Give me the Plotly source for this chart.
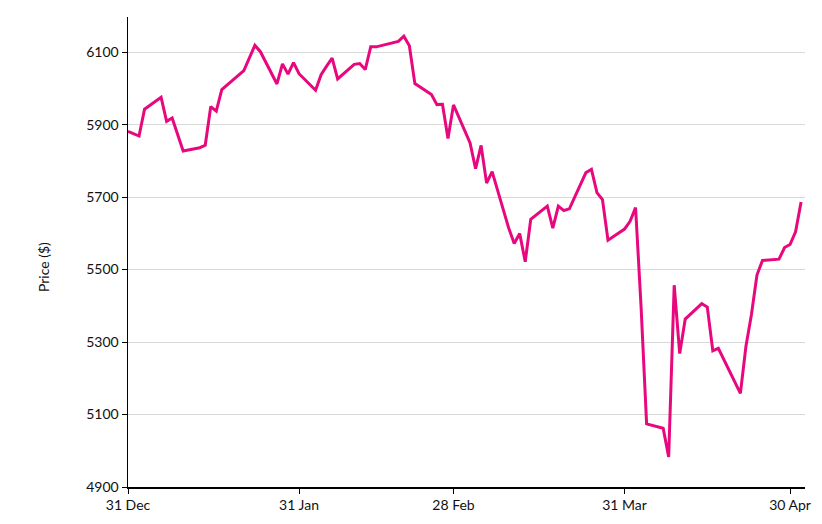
import plotly.graph_objects as go

dates = [
    "2024-12-31", "2025-01-02", "2025-01-03", "2025-01-06", "2025-01-07", "2025-01-08",
    "2025-01-10", "2025-01-13", "2025-01-14", "2025-01-15", "2025-01-16", "2025-01-17",
    "2025-01-21", "2025-01-22", "2025-01-23", "2025-01-24", "2025-01-27", "2025-01-28",
    "2025-01-29", "2025-01-30", "2025-01-31", "2025-02-03", "2025-02-04", "2025-02-05",
    "2025-02-06", "2025-02-07", "2025-02-10", "2025-02-11", "2025-02-12", "2025-02-13",
    "2025-02-14", "2025-02-18", "2025-02-19", "2025-02-20", "2025-02-21", "2025-02-24",
    "2025-02-25", "2025-02-26", "2025-02-27", "2025-02-28", "2025-03-03", "2025-03-04",
    "2025-03-05", "2025-03-06", "2025-03-07", "2025-03-10", "2025-03-11", "2025-03-12",
    "2025-03-13", "2025-03-14", "2025-03-17", "2025-03-18", "2025-03-19", "2025-03-20",
    "2025-03-21", "2025-03-24", "2025-03-25", "2025-03-26", "2025-03-27", "2025-03-28",
    "2025-03-31", "2025-04-01", "2025-04-02", "2025-04-03", "2025-04-04", "2025-04-07",
    "2025-04-08", "2025-04-09", "2025-04-10", "2025-04-11", "2025-04-14", "2025-04-15",
    "2025-04-16", "2025-04-17", "2025-04-21", "2025-04-22", "2025-04-23", "2025-04-24",
    "2025-04-25", "2025-04-28", "2025-04-29", "2025-04-30", "2025-05-01", "2025-05-02",
]

prices = [
    5881.63, 5868.55, 5942.47, 5975.38, 5909.03, 5918.25,
    5827.04, 5836.22, 5842.91, 5949.91, 5937.34, 5996.66,
    6049.24, 6086.37, 6118.71, 6101.24, 6012.28, 6067.70,
    6039.31, 6071.17, 6040.53, 5994.57, 6037.88, 6061.48,
    6083.57, 6025.99, 6066.44, 6068.50, 6051.97, 6115.07,
    6114.63, 6129.58, 6144.15, 6117.52, 6013.13, 5983.25,
    5955.25, 5956.06, 5861.57, 5954.50, 5849.72, 5778.15,
    5842.63, 5738.52, 5770.20, 5614.56, 5572.07, 5599.30,
    5521.52, 5638.94, 5675.12, 5614.66, 5675.29, 5662.89,
    5667.56, 5767.57, 5776.65, 5712.20, 5693.31, 5580.94,
    5611.85, 5633.07, 5670.97, 5396.52, 5074.08, 5062.25,
    4982.77, 5456.90, 5268.05, 5363.36, 5405.97, 5396.63,
    5275.70, 5282.70, 5158.20, 5287.76, 5375.86, 5484.77,
    5525.21, 5528.75, 5560.83, 5569.06, 5604.14, 5686.67,
]

x_tick_vals = ["2024-12-31", "2025-01-31", "2025-02-28", "2025-03-31", "2025-04-30"]
x_tick_text = ["31 Dec", "31 Jan", "28 Feb", "31 Mar", "30 Apr"]
y_tick_vals = [4900, 5100, 5300, 5500, 5700, 5900, 6100]
y_title = "Price ($)"

fig = go.Figure()
fig.add_trace(go.Scatter(
    x=dates, y=prices, mode="lines",
    line=dict(color="#e8087e", width=3),
    hoverinfo="skip",
))

font_family = "Lato, 'Open Sans', sans-serif"
fig.update_layout(
    width=822, height=524,
    margin=dict(l=128, r=17, t=17, b=37, autoexpand=False),
    paper_bgcolor="white", plot_bgcolor="white",
    showlegend=False,
    font=dict(family=font_family, size=14, color="#111"),
    xaxis=dict(
        type="date",
        range=["2024-12-31", "2025-05-02 17:00"],
        tickvals=x_tick_vals, ticktext=x_tick_text,
        showgrid=False, zeroline=False,
        showline=True, linecolor="black", linewidth=1.5,
        ticks="outside", ticklen=5, tickcolor="black", tickwidth=1,
        automargin=False,
    ),
    yaxis=dict(
        range=[4900, 6197],
        tickvals=y_tick_vals,
        showgrid=True, gridcolor="#d9d9d9", gridwidth=1,
        zeroline=False,
        showline=True, linecolor="black", linewidth=1.5,
        ticks="outside", ticklen=5, tickcolor="black", tickwidth=1,
        automargin=False,
    ),
    annotations=[dict(
        text=y_title, textangle=-90,
        xref="paper", yref="paper",
        x=(43 - 128) / 677, y=(487 - 267) / 470,
        xanchor="center", yanchor="middle",
        showarrow=False, font=dict(size=14),
    )],
)

fig.write_html(
    "out.html",
    config={"displayModeBar": False, "staticPlot": True},
    post_script="document.body.style.margin='0';",
)
